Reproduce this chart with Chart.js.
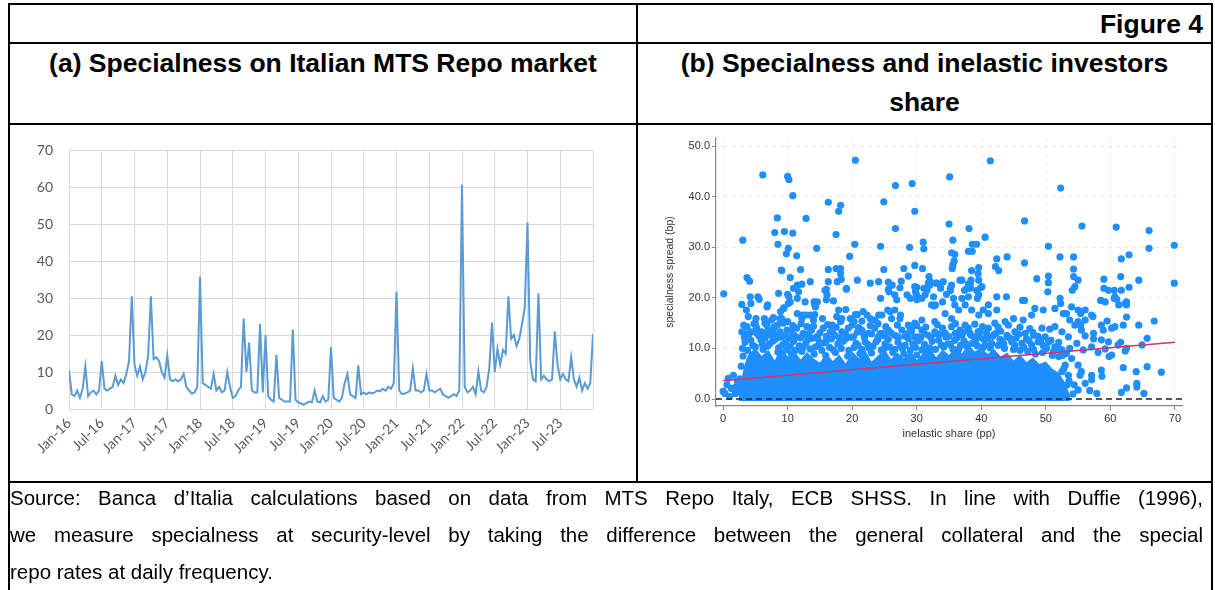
<!DOCTYPE html>
<html>
<head>
<meta charset="utf-8">
<script src="https://cdn.jsdelivr.net/npm/chart.js@4.4.1/dist/chart.umd.min.js"></script>
<style>
  body { margin: 0; width: 1215px; height: 590px; background: #fff; position: relative; overflow: hidden;
         font-family: "Liberation Sans", Arial, sans-serif; color: #000; }
  .ln { position: absolute; background: #000; }
  .tx { position: absolute; white-space: nowrap; }
  .hd { font-weight: bold; font-size: 26.5px; }
  .src { position: absolute; left: 10px; width: 1193px; font-size: 20.5px; line-height: 37px; white-space: nowrap; }
  .just { text-align: justify; text-align-last: justify; }
  canvas { position: absolute; }
</style>
</head>
<body>
<!-- table borders -->
<div class="ln" style="left:8px;top:3px;width:1205px;height:2px"></div>
<div class="ln" style="left:8px;top:42px;width:1205px;height:2px"></div>
<div class="ln" style="left:8px;top:123px;width:1205px;height:2px"></div>
<div class="ln" style="left:8px;top:481px;width:1205px;height:2px"></div>
<div class="ln" style="left:8px;top:3px;width:2px;height:587px"></div>
<div class="ln" style="left:636px;top:3px;width:2px;height:479px"></div>
<div class="ln" style="left:1211px;top:3px;width:2px;height:587px"></div>

<div class="tx hd" style="right:12px;top:5px;line-height:38px">Figure 4</div>
<div class="tx hd" style="left:10px;width:626px;top:44px;line-height:39px;text-align:center">(a) Specialness on Italian MTS Repo market</div>
<div class="tx hd" style="left:638px;width:573px;top:44px;line-height:39px;text-align:center">(b) Specialness and inelastic investors<br>share</div>

<canvas id="leftChart" width="626" height="355" style="left:10px;top:126px"></canvas>
<canvas id="rightChart" width="572" height="355" style="left:639px;top:126px"></canvas>

<div class="src just" style="top:479px">Source: Banca d’Italia calculations based on data from MTS Repo Italy, ECB SHSS. In line with Duffie (1996),</div>
<div class="src just" style="top:516px">we measure specialness at security-level by taking the difference between the general collateral and the special</div>
<div class="src" style="top:553px">repo rates at daily frequency.</div>

<script>
// (a) specialness, semi-monthly readings, bp
const spec2016 = [10.5, 4, 3.5, 5, 3, 5.5, 11.5, 3.5, 4.5, 5, 4, 5, 13, 5.5, 5, 5.5, 6, 9, 6.5, 8, 7, 9.5, 13, 30.5];
const spec2017 = [12, 9, 11.5, 8, 10, 14.5, 30.5, 13.5, 14, 13, 10, 8.5, 14.5, 8, 7.5, 8, 7.5, 8, 9.5, 6, 5, 4.2, 4.5, 6];
const spec2018 = [35.8, 7, 6.5, 6, 5.5, 9.5, 5, 6, 4.5, 5, 10, 6, 3, 3.5, 5, 6, 24.5, 10, 18, 5, 4.5, 4.5, 23, 4.5];
const spec2019 = [20, 3.5, 2.5, 2, 14.7, 3, 2.5, 2, 2, 2, 21.5, 2.5, 1.8, 1.5, 1.2, 1.6, 2, 1.8, 5, 2, 1.8, 3.5, 2, 2.5];
const spec2020 = [16.8, 3, 2.5, 2, 3, 7, 9.5, 4, 3.5, 3, 11.8, 4, 4.5, 4, 4.5, 4.2, 4.5, 5, 4.8, 5.5, 5, 6, 5.5, 7];
const spec2021 = [31.8, 5, 4, 4.2, 4.5, 5, 11, 5, 5, 4.5, 5, 9.5, 5, 5, 4.5, 5, 5.5, 4, 3.5, 3, 3.5, 4, 3.5, 5];
const spec2022 = [60.7, 6, 4.5, 5, 6, 4, 10.2, 5, 4.5, 6, 11, 23.4, 10, 16.3, 12, 16, 15, 30.5, 19, 20, 17, 19, 23, 27.4];
const spec2023 = [50.5, 13, 8, 7.5, 31.3, 8, 9, 8, 7.5, 8, 21, 12, 8, 9.5, 8, 7.5, 14, 8, 6, 8.5, 5, 7, 5.5, 7];
const spec2024 = [20.3];
const monthLabels = ['Jan-16', 'Jul-16', 'Jan-17', 'Jul-17', 'Jan-18', 'Jul-18', 'Jan-19', 'Jul-19',
                     'Jan-20', 'Jul-20', 'Jan-21', 'Jul-21', 'Jan-22', 'Jul-22', 'Jan-23', 'Jul-23'];

// (b) specialness spread (bp) vs inelastic share (pp), [x, y]
const dotsTop = [[6.15,44.3],[10.0,44.0],[10.2,43.4],[10.8,40.2],[20.5,47.2],[16.3,38.9],[18.2,38.3],[17.9,37.1],
  [24.9,39.0],[26.7,42.2],[29.3,42.6],[29.7,37.1],[35.1,43.9],[35.0,34.6],[8.4,35.8],[12.85,35.7],[8.0,32.9],
  [9.5,33.1],[10.8,32.8],[3.05,31.4],[8.5,30.6],[10.1,29.8],[14.5,29.8],[17.5,32.5],[20.4,30.6],[24.4,30.2],
  [26.7,33.7],[28.9,30.0],[31.0,31.0],[31.1,29.7],[41.4,47.1],[52.3,41.7],[38.1,33.7],[46.7,35.2],[55.6,34.2],
  [60.9,34.0],[66.0,33.3],[35.6,31.4],[40.6,32.0],[38.6,30.6],[39.3,30.6],[50.4,30.2],[66.0,29.8],[69.9,30.4]];
const dotsUpper = [[9.8,28.7],[11.4,28.3],[19.6,28.2],[12.0,25.6],[16.3,25.6],[17.5,25.8],[18.2,25.8],[24.9,25.6],
  [29.7,26.4],[30.9,25.8],[9.0,25.5],[38.0,29.2],[38.6,29.2],[35.4,28.9],[35.9,28.6],[35.8,27.3],[35.6,26.5],
  [42.4,27.7],[44.0,28.1],[46.7,26.9],[52.2,28.1],[54.3,28.1],[61.7,27.7],[62.9,28.5],[42.2,26.2],[42.7,25.4],
  [69.9,22.9],[59.0,23.7],[59.0,21.9],[61.6,24.2],[62.9,22.1],[64.4,23.5],[60.6,21.5],[59.7,21.5],[58.5,19.5],
  [60.6,19.9],[61.0,19.7],[61.3,18.6],[62.5,19.2],[62.5,18.6],[57.3,16.3],[62.5,16.2],[54.3,25.7],[54.3,24.2],
  [55.0,23.5],[54.1,21.5],[54.5,22.2],[50.4,24.3],[50.4,23.0],[50.3,21.2],[48.6,23.8],[46.7,19.5],[46.4,19.5],
  [38.5,25.4],[39.5,24.8],[39.6,23.5],[39.9,22.0],[39.4,19.9],[37.0,23.5],[38.0,22.7],[38.3,21.9],[37.4,21.5],
  [35.5,25.8],[35.4,22.5],[35.2,21.4],[35.7,19.9],[34.1,23.2],[33.7,22.0],[33.1,22.9],[32.0,22.5],[30.0,22.1],
  [30.0,20.6],[31.6,21.5],[0.1,20.8],[3.7,24.0],[4.1,23.3],[2.9,18.7],[4.3,18.9],[5.4,20.2],[5.6,19.7],[6.9,18.6],
  [8.6,20.9],[10.0,20.7],[11.5,19.9],[10.9,21.9],[11.5,22.5],[12.2,22.7],[10.1,18.9],[9.4,17.9],[8.9,17.3],
  [13.5,23.2],[12.7,19.2],[14.1,19.2],[14.2,18.6],[16.0,21.7],[16.3,23.2],[19.1,21.7],[25.6,23.1],[25.6,21.7],
  [26.6,20.6],[26.9,19.6],[26.6,17.6],[25.5,17.6],[28.7,24.3],[29.7,22.2],[29.8,21.2],[31.8,22.9],[33.0,22.9],
  [33.7,21.9],[34.6,20.7],[31.3,20.6],[32.3,18.6],[32.7,18.4],[34.0,19.2],[17.1,19.4],[17.9,17.6],[19.0,17.7],
  [20.5,16.7],[24.1,16.6],[12.3,16.6],[12.8,16.6],[14.2,16.7],[21.7,17.3],[22.3,16.6],[39.6,26.0],[38.4,23.5],
  [38.3,22.5],[39.3,21.5],[40.1,22.2],[39.6,20.6],[36.7,23.5],[37.8,21.9],[35.2,21.9],[37.0,19.9],[38.0,20.2],
  [37.5,18.6],[35.9,18.6],[40.3,17.6],[41.1,18.6],[42.4,17.6],[42.4,20.2],[43.9,20.2],[41.1,16.9],[39.6,16.6],
  [38.5,17.6],[36.5,17.6],[34.4,16.9],[48.3,17.9],[49.6,17.6],[51.4,17.9],[52.2,19.9],[52.7,16.9],[54.0,18.2],
  [55.3,17.3],[57.1,16.6],[59.2,19.2],[60.7,20.2],[62.3,18.9],[61.7,21.5],[47.8,16.6],[52.3,18.9],[55.0,17.6],
  [55.4,16.9],[56.1,17.6],[3.6,17.6],[7.8,16.1],[9.4,18.0],[10.2,20.2],[10.4,19.2],[11.7,21.2],[9.1,25.4],
  [10.4,24.0],[4.2,20.2],[6.8,18.2],[11.5,16.9],[13.5,16.6],[14.6,19.2],[14.3,18.2],[15.8,21.5],[16.1,20.6],
  [16.0,19.6],[17.7,23.2],[18.3,23.7],[18.2,24.8],[19.1,21.9],[20.8,23.5],[22.8,22.9],[24.1,23.2],[20.8,16.7],
  [24.6,16.6],[25.9,17.3],[27.5,16.6],[24.4,19.9],[25.7,21.2],[26.2,22.5],[27.4,22.0],[27.6,23.3],[28.0,25.8],
  [28.5,20.6],[29.0,19.9],[30.0,19.6],[30.8,19.9],[31.1,21.9],[31.9,24.2],[32.1,23.2],[32.6,20.2],[32.9,18.6]];
const dotsLower = [[3.9,16.3],[5.1,15.9],[6.4,15.9],[7.5,15.6],[6.5,15.0],[8.8,15.9],[9.3,15.0],[10.0,15.3],
  [12.2,15.9],[13.0,14.3],[17.6,16.3],[18.4,15.9],[26.1,15.9],[27.4,15.9],[28.7,14.6],[29.7,15.0],[30.8,15.6],
  [32.8,15.3],[20.3,15.3],[21.5,15.4],[23.5,15.6],[15.4,15.9],[2.9,13.3],[3.7,14.3],[4.4,13.3],[5.2,14.0],
  [6.0,13.3],[7.0,13.6],[7.8,13.0],[8.8,13.3],[9.6,12.6],[10.6,13.3],[11.4,14.0],[12.4,13.0],[13.7,13.6],
  [14.5,12.3],[15.5,14.0],[16.6,13.3],[17.3,12.6],[18.4,13.3],[19.4,14.0],[20.2,12.3],[21.5,13.6],[22.5,13.0],
  [23.5,14.0],[24.6,13.0],[25.6,13.6],[26.6,12.6],[27.7,13.6],[28.7,13.0],[29.7,12.3],[30.8,13.6],[31.8,12.6],
  [32.8,13.3],[34.4,13.0],[5.0,14.8],[6.8,14.6],[8.4,14.6],[9.1,15.9],[14.0,15.6],[16.9,14.6],[18.2,15.3],
  [22.8,15.9],[19.7,15.9],[35.4,15.9],[43.7,15.3],[42.1,15.0],[41.1,14.0],[39.5,13.3],[38.0,14.0],[36.7,13.6],
  [35.4,14.3],[45.2,13.3],[46.8,13.0],[48.1,12.6],[49.4,14.0],[49.9,12.3],[51.4,14.3],[52.5,13.3],[53.5,12.3],
  [54.5,14.6],[55.5,13.6],[56.1,15.6],[57.4,13.0],[58.9,13.6],[60.7,14.3],[61.6,11.2],[46.5,15.6],[45.0,15.9],
  [58.6,14.6],[64.4,14.6],[66.8,15.4],[65.7,12.0],[64.9,10.7],[53.7,15.6],[55.0,15.3],[55.4,14.6],[53.2,16.9],
  [59.5,15.4],[60.2,14.0],[62.0,14.6],[44.7,11.3],[46.3,11.0],[47.8,10.7],[48.8,11.3],[50.1,10.0],[51.4,10.3],
  [52.5,9.7],[53.7,10.0],[54.8,11.0],[55.8,9.7],[57.1,10.3],[58.1,9.2],[59.2,9.9],[60.2,8.7],[62.3,9.5],
  [56.1,12.5],[57.4,11.9],[58.6,11.7],[59.7,11.3],[61.2,10.7],[62.5,10.0],[54.0,8.0],[53.0,6.7],[55.0,6.7],
  [55.5,5.4],[57.1,4.7],[57.1,3.8],[56.1,3.1],[55.0,1.8],[53.3,2.8],[54.4,2.8],[58.6,5.7],[52.5,5.4],[51.4,4.1],
  [53.5,4.7],[59.8,8.4],[62.0,6.2],[65.7,6.4],[67.9,5.3],[64.0,5.4],[58.7,4.5],[64.1,3.1],[64.1,2.4],[62.5,2.2],
  [61.7,1.3],[65.2,1.1],[57.9,1.1],[56.8,1.7],[55.3,4.7],[52.8,6.0],[53.6,3.6],[54.2,1.0],[52.3,3.0]];
// crowded band just above the solid core
const dotsBand = [[3.2,14.6],[4.8,14.9],[7.9,14.2],[10.8,14.5],[12.1,14.9],[14.0,14.4],[16.2,14.7],[17.5,14.2],
  [20.0,14.6],[21.0,14.1],[22.8,14.5],[24.0,14.9],[25.2,14.3],[27.0,14.6],[29.0,14.1],[30.0,14.5],[31.4,14.2],
  [33.2,14.7],[34.0,14.0],[36.0,14.9],[37.5,14.6],[39.0,14.8],[40.2,14.3],[42.6,14.2],[44.2,14.6],[46.0,14.2],
  [47.5,13.9],[50.6,13.8],[3.3,12.2],[4.0,12.8],[5.6,12.4],[6.5,12.0],[7.4,12.6],[8.3,12.2],[9.9,13.6],[10.2,12.0],
  [11.0,12.6],[12.0,12.1],[13.0,12.6],[13.8,12.0],[15.0,13.1],[16.0,12.4],[17.0,13.8],[18.0,12.1],[19.0,12.8],
  [20.8,13.2],[21.9,12.2],[23.0,12.9],[24.0,12.2],[25.0,12.5],[26.0,13.1],[27.2,12.2],[28.2,12.4],[29.2,13.5],
  [30.3,12.3],[31.2,12.9],[32.2,12.2],[33.5,12.8],[35.0,12.4],[36.0,13.0],[37.2,13.2],[38.4,12.6],[39.8,12.2],
  [40.8,13.0],[42.0,12.8],[43.0,13.4],[44.0,12.6],[45.4,12.0],[47.0,11.9],[48.0,13.2],[49.2,11.6],[50.8,11.6],
  [52.0,11.2],[3.0,10.0],[3.8,9.6],[5.0,10.3],[6.2,9.8],[6.9,10.5],[8.6,10.1],[9.8,9.7],[10.4,10.4],[11.2,9.6],
  [12.4,10.2],[13.5,9.9],[14.3,10.3],[15.3,9.6],[16.5,10.2],[17.1,9.7],[18.3,10.0],[19.5,9.6],[20.3,10.2],
  [21.5,9.8],[22.6,10.1],[24.5,9.7],[25.8,10.3],[26.6,9.8],[27.8,10.0],[29.0,9.6],[29.8,10.2],[30.8,9.7],
  [32.0,10.1],[32.9,9.8],[34.2,10.3],[35.6,9.9],[36.8,10.6],[37.8,10.3],[38.6,11.0],[39.4,10.5],[40.6,10.7],
  [41.4,10.1],[42.6,10.6],[43.6,10.0],[45.0,9.8],[46.0,9.6],[47.2,9.4],[48.4,8.9],[49.5,9.2],[51.0,8.6],[52.0,8.4]];
const dotsCrowd = [[3.6,12.9],[4.3,11.6],[5.3,12.9],[6.1,10.8],[6.6,13.0],[7.7,11.4],[8.5,9.3],[9.0,12.2],[9.7,11.1],
  [10.6,9.0],[11.4,12.2],[12.2,9.4],[12.8,11.0],[13.3,13.0],[14.1,8.9],[14.7,11.9],[15.6,11.1],[15.9,8.6],[16.8,11.9],
  [17.4,9.2],[18.6,11.4],[19.3,8.5],[19.8,12.2],[20.6,11.0],[21.2,9.0],[21.8,12.7],[22.4,10.8],[23.0,9.1],[23.7,11.3],
  [24.3,12.9],[25.0,10.0],[25.6,11.8],[26.3,9.2],[26.9,12.4],[27.5,10.5],[28.0,8.9],[28.7,11.9],[29.4,10.9],[30.0,8.7],
  [30.6,12.1],[31.5,9.5],[32.4,11.4],[33.0,12.9],[33.8,10.7],[34.5,12.3],[35.2,10.8],[35.9,11.6],[36.5,9.8],[37.0,12.6],
  [37.6,10.9],[38.2,13.1],[39.1,11.5],[39.8,13.4],[40.3,10.2],[41.0,12.0],[41.6,11.0],[42.3,13.0],[42.9,11.8],[43.5,10.9],
  [44.5,12.0],[45.2,10.6],[45.8,12.8],[46.6,10.2],[47.4,11.5],[48.1,9.8],[48.8,12.4],[49.6,10.6],[50.4,11.2],[51.2,9.4],
  [51.9,10.1],[52.6,8.6],[53.2,9.0],[3.1,8.5],[2.8,6.5],[2.6,4.0],[2.9,2.6],[3.5,3.0]];
const dotsEdge = [[3.4,11.2],[4.6,10.6],[5.9,11.6],[7.2,10.9],[8.1,11.8],[9.2,10.7],[10.9,11.4],[11.8,10.5],
  [13.1,11.7],[14.9,10.8],[16.0,11.5],[17.8,10.9],[19.0,11.9],[20.9,10.6],[22.0,11.3],[23.2,10.4],[24.0,11.8],
  [25.1,10.9],[27.1,11.2],[28.2,10.6],[30.2,11.5],[31.2,10.8],[33.4,11.6],[34.8,10.9],[36.2,12.1],[37.3,11.5],
  [38.9,12.2],[40.4,11.8],[41.8,12.4],[43.2,11.4],[44.0,12.3]];
const dotsLeft = [[0.0,1.5],[0.3,1.1],[0.6,2.8],[0.8,4.1],[1.3,2.1],[1.6,4.7],[1.9,1.1],[2.6,1.4],[1.0,0.5],[2.2,3.5],[2.0,2.4]];
// solid dense mass of overlapping dots: its upper edge
const coreShare = [2.4, 3, 3.5, 4, 5, 6, 7, 8, 9, 10, 11, 12, 13, 14, 15, 16, 17, 18, 19, 20, 21, 22, 23, 24, 25, 26, 27, 28,
  29, 30, 31, 32, 33, 34, 35, 36, 37, 38, 39, 40, 41, 42, 43, 44, 45, 46, 47, 48, 49, 50, 51, 52, 53, 53.8];
const coreSpread = [0.5, 5, 7.5, 9, 10, 8.5, 9.8, 7.6, 10.2, 8.4, 9.6, 7.8, 9.3, 8.0, 7.2, 9.0, 7.5, 8.8, 7.0, 9.4, 8.1,
  9.7, 7.4, 8.6, 9.9, 7.9, 9.2, 8.0, 9.6, 7.7, 9.1, 10.2, 8.3, 9.8, 8.7, 10.4, 9.0, 10.8, 9.4, 10.1, 8.9, 9.9, 8.4, 9.2,
  7.6, 8.8, 7.3, 8.2, 6.9, 7.4, 6.0, 5.2, 3.2, 0.5];
const fitShare = [0, 70];
const fitSpread = [3.6, 11.2];

const specValues = [].concat(spec2016, spec2017, spec2018, spec2019, spec2020, spec2021, spec2022, spec2023, spec2024);
const specPoints = specValues.map((v, i) => ({ x: i / 2, y: v }));  // x in months since Jan-16

new Chart(document.getElementById('leftChart'), {
  type: 'line',
  data: { datasets: [{ data: specPoints, borderColor: '#5b9bd5', borderWidth: 2, pointRadius: 0, tension: 0 }] },
  options: {
    responsive: false, animation: false,
    layout: { padding: { top: 17, right: 43, left: 0, bottom: 0 } },
    plugins: { legend: { display: false }, tooltip: { enabled: false } },
    scales: {
      x: {
        type: 'linear', min: 0, max: 96,
        ticks: { stepSize: 6, autoSkip: false, minRotation: 45, maxRotation: 45, padding: 6,
                 color: '#595959', font: { family: 'Lato', size: 14 },
                 callback: (v) => monthLabels[v / 6] || '' },
        grid: { color: '#d9d9d9', drawTicks: false },
        border: { display: false },
        afterFit: (s) => { s.height = 72; }
      },
      y: {
        min: 0, max: 70,
        ticks: { stepSize: 10, padding: 16, color: '#595959', font: { family: 'Lato', size: 14 } },
        grid: { color: '#d9d9d9', drawTicks: false },
        border: { display: false },
        afterFit: (s) => { s.width = 59; }
      }
    }
  }
});

const toXY = (p) => ({ x: p[0], y: p[1] });
const dots = [].concat(dotsTop, dotsUpper, dotsLower, dotsBand, dotsCrowd, dotsEdge, dotsLeft).map(toXY);
const core = coreShare.map((x, i) => ({ x: x, y: coreSpread[i] }));
const fit = fitShare.map((x, i) => ({ x: x, y: fitSpread[i] }));
const blue = '#1f8fff';
const axisFont = { family: 'Liberation Sans', size: 11 };

new Chart(document.getElementById('rightChart'), {
  type: 'scatter',
  data: {
    datasets: [
      { type: 'line', data: [{ x: -1.1, y: 0 }, { x: 71.1, y: 0 }], borderColor: '#222', borderWidth: 1.5, borderDash: [6, 4], pointRadius: 0 },
      { type: 'line', data: fit, borderColor: '#dc2f63', borderWidth: 1.5, pointRadius: 0 },
      { data: dots, backgroundColor: blue, borderWidth: 0, pointRadius: 3.6 },
      { type: 'line', data: core, backgroundColor: blue, borderWidth: 0, pointRadius: 0, fill: { value: -0.4 } }
    ]
  },
  options: {
    responsive: false, animation: false,
    layout: { padding: { left: 21, top: 12, right: 29, bottom: 36 } },
    plugins: { legend: { display: false }, tooltip: { enabled: false } },
    scales: {
      x: {
        type: 'linear', min: -1.1, max: 71.1,
        ticks: { stepSize: 10, includeBounds: false, padding: 2, color: '#333', font: axisFont },
        grid: { color: '#e9e9e9', tickColor: '#888', tickLength: 4 },
        border: { color: '#888', width: 1.2, dash: [4, 4] },
        title: { display: true, text: 'inelastic share (pp)', color: '#333', font: axisFont, padding: { top: 4, bottom: 4 } },
        afterFit: (s) => { s.height = 39; }
      },
      y: {
        min: -1.38, max: 51.6,
        ticks: { stepSize: 10, includeBounds: false, padding: 2, color: '#333', font: axisFont,
                 callback: (v) => v.toFixed(1) },
        grid: { color: '#e9e9e9', tickColor: '#888', tickLength: 4 },
        border: { color: '#888', width: 1.2, dash: [4, 4] },
        title: { display: true, text: 'specialness spread (bp)', color: '#333', font: { family: 'Liberation Sans', size: 10.5 }, padding: { top: 4, bottom: 4 } },
        afterFit: (s) => { s.width = 56; }
      }
    }
  }
});
</script>
</body>
</html>
